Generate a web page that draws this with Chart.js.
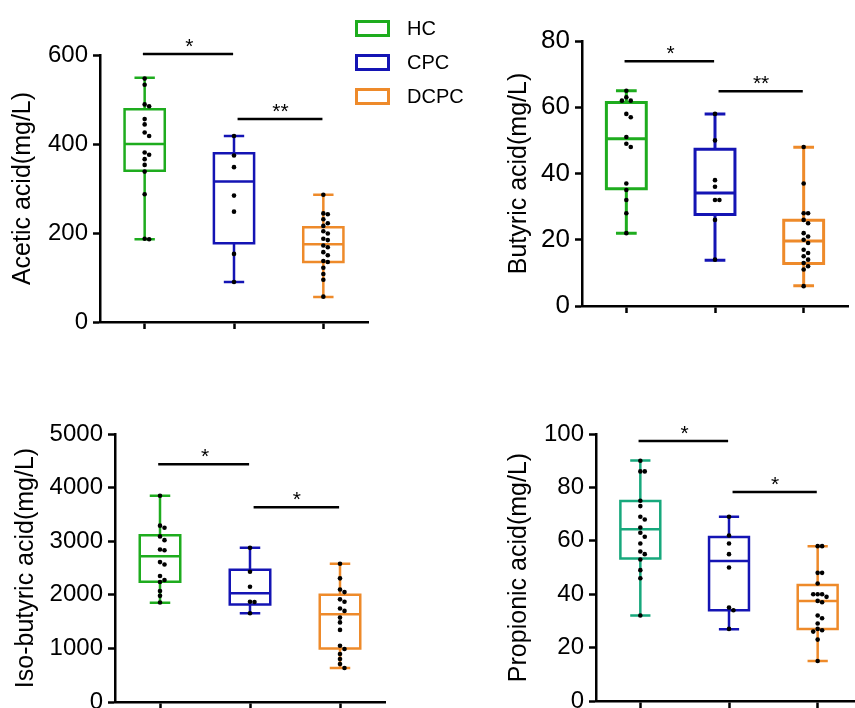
<!DOCTYPE html>
<html><head><meta charset="utf-8">
<script src="https://cdn.jsdelivr.net/npm/chart.js@4.4.0/dist/chart.umd.min.js"></script>
<style>
html,body{margin:0;padding:0;background:#fff;overflow:hidden;width:855px;height:708px;position:relative;}
canvas{position:absolute;left:0;top:0;}
#legend{position:absolute;left:355px;top:20px;z-index:5;font-family:"Liberation Sans",Arial,sans-serif;font-size:20px;color:#000;}
.li{position:absolute;left:0;height:17px;width:140px;}
.sw{position:absolute;left:0;top:0;width:29px;height:11px;border:3px solid;}
.lt{position:absolute;left:52px;top:0;line-height:17px;white-space:nowrap;}
</style>
</head><body>
<div id="legend"></div>
<canvas id="c1" width="880" height="720"></canvas>
<canvas id="c2" width="880" height="720"></canvas>
<canvas id="c3" width="880" height="720"></canvas>
<canvas id="c4" width="880" height="720"></canvas>
<script>
// ---- data ----
const groups = ['HC', 'CPC', 'DCPC'];

// box stats per group: [min, Q1, median, Q3, max]
const aceticStats = [[186, 340, 400, 478, 549], [90, 177, 316, 379, 418], [56, 135, 175, 213, 286]];
const aceticHC = [547, 533, 489, 485, 456, 444, 426, 418, 381, 376, 366, 353, 338, 287, 187, 186];
const aceticCPC = [418, 374, 348, 284, 248, 153, 90];
const aceticDCPC = [286, 244, 242, 231, 222, 216, 204, 199, 187, 184, 172, 168, 157, 150, 137, 135, 122, 108, 95, 57];
const aceticTicks = [0, 200, 400, 600];
const aceticSig = [[0, 1, 602, '*'], [1, 2, 456, '**']];

const butyricStats = [[22, 35.4, 50.5, 61.4, 65], [13.8, 27.6, 34.1, 47.3, 58], [6.1, 12.8, 19.6, 25.9, 47.9]];
const butyricHC = [65, 63, 62, 62, 58, 57, 51, 49, 48, 37, 35, 32, 28, 22];
const butyricCPC = [58, 50, 38, 36, 32, 32, 26, 14];
const butyricDCPC = [48, 37, 28, 28, 26, 25, 22, 21, 20, 19, 17, 16, 15, 14, 13, 12, 11, 6];
const butyricTicks = [0, 20, 40, 60, 80];
const butyricSig = [[0, 1, 73.9, '*'], [1, 2, 64.8, '**']];

const isoStats = [[1854, 2245, 2721, 3111, 3848], [1656, 1817, 2028, 2467, 2876], [635, 1000, 1638, 2003, 2579]];
const isoHC = [3848, 3290, 3250, 3090, 3020, 2845, 2830, 2610, 2565, 2350, 2275, 2240, 2070, 1980, 1855];
const isoCPC = [2876, 2430, 2150, 1870, 1865, 1656];
const isoDCPC = [2579, 2307, 2100, 2050, 1915, 1870, 1745, 1700, 1575, 1485, 1345, 1050, 990, 895, 800, 710, 635];
const isoTicks = [0, 1000, 2000, 3000, 4000, 5000];
const isoSig = [[0, 1, 4435, '*'], [1, 2, 3632, '*']];

const propStats = [[32, 53.4, 64.3, 74.9, 90.1], [26.9, 34, 52.4, 61.4, 69], [15, 27, 37.5, 43.4, 58]];
const propHC = [90, 86, 86, 75, 73, 69, 68, 65, 63, 61.5, 59, 56, 55, 53, 49, 46, 32];
const propCPC = [69, 62, 59, 55, 50, 35, 34, 27];
const propDCPC = [58, 58, 48, 48, 44, 40, 40, 40, 39, 37.5, 37, 32, 31, 29, 27, 26.5, 26, 23, 15];
const propTicks = [0, 20, 40, 60, 80, 100];
const propSig = [[0, 1, 97.4, '*'], [1, 2, 78.3, '*']];

// ---- styling ----
const FONT = '"Liberation Sans", Arial, sans-serif';
const GREEN = '#1eac1e', BLUE = '#1414b4', ORANGE = '#ee8a2a', TEAL = '#17a87c';
const CW = 880, CH = 720, XH = 16;

// legend (HTML)
const legendColors = [GREEN, BLUE, ORANGE];
const lg = document.getElementById('legend');
groups.forEach((g, i) => {
  const d = document.createElement('div');
  d.className = 'li'; d.style.top = (i * 34) + 'px';
  d.innerHTML = '<div class="sw" style="border-color:' + legendColors[i] + '"></div><div class="lt">' + g + '</div>';
  lg.appendChild(d);
});

function spread(vals, yMax) {
  const thr = yMax * 0.016, d = 0.05, placed = [];
  return vals.map(v => {
    const cands = [0, d, -d, 2 * d, -2 * d, 3 * d, -3 * d];
    for (const dx of cands) {
      if (!placed.some(p => Math.abs(p.dx - dx) < d * 0.9 && Math.abs(p.v - v) < thr)) {
        placed.push({dx, v}); return [dx, v];
      }
    }
    placed.push({dx: 0, v}); return [0, v];
  });
}

const starPlugin = {
  id: 'stars',
  afterDatasetsDraw(chart) {
    const sig = chart.options.plugins.stars.sig;
    const {ctx} = chart; const xs = chart.scales.x, ys = chart.scales.y;
    ctx.save();
    ctx.fillStyle = '#000';
    ctx.font = '21px ' + FONT;
    ctx.textAlign = 'center'; ctx.textBaseline = 'alphabetic';
    sig.forEach(s => {
      const a = s[0] + 0.5 + (s[0] > 0 ? 0.04 : 0), b = s[1] + 0.5;
      const x = xs.getPixelForValue((a + b) / 2);
      const y = ys.getPixelForValue(s[2]);
      ctx.fillText(s[3], x, y - 1);
    });
    ctx.restore();
  }
};

function makePanel(id, p) {
  const datasets = [];
  const pts = [];
  p.points.forEach((arr, g) => {
    spread(arr, p.ticks[p.ticks.length - 1]).forEach(([dx, v]) => pts.push({x: g + 0.5 + dx, y: v}));
  });
  datasets.push({data: pts, pointRadius: 2.3, pointBackgroundColor: '#000', pointBorderWidth: 0, order: 0, clip: false});
  p.stats.forEach((s, g) => {
    const [mn, q1, md, q3, mx] = s;
    const c = g + 0.5, w = 0.225, cw = 0.1;
    const data = [
      {x: c - w, y: q1}, {x: c + w, y: q1}, {x: c + w, y: q3}, {x: c - w, y: q3}, {x: c - w, y: q1}, {x: c, y: null},
      {x: c - w, y: md}, {x: c + w, y: md}, {x: c, y: null},
      {x: c, y: q3}, {x: c, y: mx}, {x: c, y: null}, {x: c - cw, y: mx}, {x: c + cw, y: mx}, {x: c, y: null},
      {x: c, y: q1}, {x: c, y: mn}, {x: c, y: null}, {x: c - cw, y: mn}, {x: c + cw, y: mn}
    ];
    datasets.push({data, showLine: true, borderColor: p.colors[g], borderWidth: p.lw, borderCapStyle: 'square',
      pointRadius: 0, tension: 0, spanGaps: false, fill: false, order: 1, clip: false});
  });
  const sigData = [];
  p.sig.forEach(s => {
    const a = s[0] + 0.5 + (s[0] > 0 ? 0.04 : -0.02), b = s[1] + 0.5 - 0.01;
    sigData.push({x: a, y: s[2]}, {x: b, y: s[2]}, {x: b, y: null});
  });
  datasets.push({data: sigData, showLine: true, borderColor: '#000', borderWidth: 2.5, pointRadius: 0,
    spanGaps: false, order: 2, clip: false});

  const axisGrid = {drawOnChartArea: false, drawTicks: true, tickLength: 7, tickWidth: 2.5, color: '#000', tickColor: '#000'};
  const border = {display: true, color: '#000', width: 2.5};
  return new Chart(document.getElementById(id), {
    type: 'scatter',
    data: {datasets},
    plugins: [starPlugin],
    options: {
      responsive: false, animation: false, devicePixelRatio: 1,
      layout: {padding: {left: p.titleCenter - 15, top: p.T, right: CW - p.R, bottom: CH - p.B - XH}},
      plugins: {legend: {display: false}, tooltip: {enabled: false}, stars: {sig: p.sig}},
      scales: {
        x: {
          type: 'linear', min: 0, max: 3,
          afterBuildTicks: s => { s.ticks = [0.5, 1.5, 2.5].map(v => ({value: v})); },
          ticks: {callback: () => '', padding: 0},
          grid: axisGrid, border,
          afterFit: s => { s.height = XH; s.paddingLeft = 0; s.paddingRight = 0; }
        },
        y: {
          type: 'linear', min: 0, max: p.ticks[p.ticks.length - 1],
          afterBuildTicks: s => { s.ticks = p.ticks.map(v => ({value: v})); },
          ticks: {color: '#000', font: {family: FONT, size: p.tickSize}, padding: 5, autoSkip: false,
            callback: v => String(v)},
          grid: axisGrid, border,
          title: {display: true, text: p.title, color: '#000', font: {family: FONT, size: 25}, padding: 0},
          afterFit: s => { s.width = p.L - (p.titleCenter - 15); s.paddingTop = 0; s.paddingBottom = 0; }
        }
      }
    }
  });
}

makePanel('c1', {title: 'Acetic acid(mg/L)', stats: aceticStats, points: [aceticHC, aceticCPC, aceticDCPC],
  ticks: aceticTicks, sig: aceticSig, colors: [GREEN, BLUE, ORANGE], lw: 2.5, tickSize: 24,
  L: 100, R: 368, T: 55, B: 322, titleCenter: 23});
makePanel('c2', {title: 'Butyric acid(mg/L)', stats: butyricStats, points: [butyricHC, butyricCPC, butyricDCPC],
  ticks: butyricTicks, sig: butyricSig, colors: [GREEN, BLUE, ORANGE], lw: 3, tickSize: 26,
  L: 582, R: 848, T: 41, B: 306, titleCenter: 519});
makePanel('c3', {title: 'Iso-butyric acid(mg/L)', stats: isoStats, points: [isoHC, isoCPC, isoDCPC],
  ticks: isoTicks, sig: isoSig, colors: [GREEN, BLUE, ORANGE], lw: 2.5, tickSize: 24,
  L: 115, R: 385, T: 434, B: 702, titleCenter: 26});
makePanel('c4', {title: 'Propionic acid(mg/L)', stats: propStats, points: [propHC, propCPC, propDCPC],
  ticks: propTicks, sig: propSig, colors: [TEAL, BLUE, ORANGE], lw: 2.5, tickSize: 24,
  L: 596, R: 862, T: 434, B: 701, titleCenter: 519});
</script>
</body></html>
